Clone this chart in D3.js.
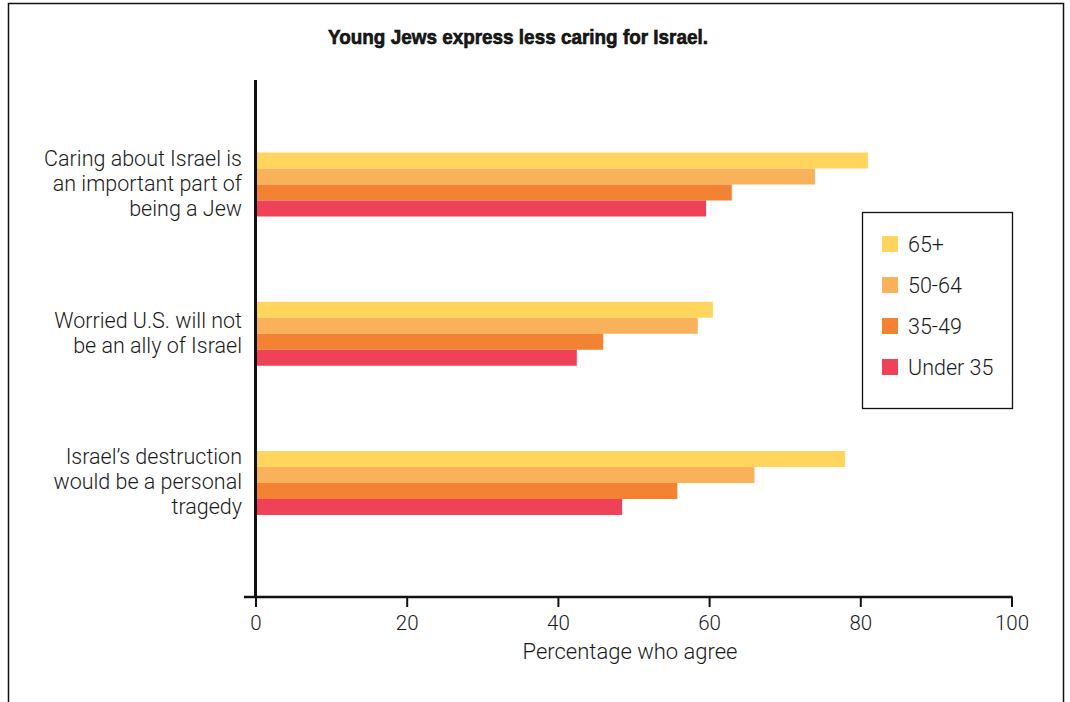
<!DOCTYPE html>
<html>
<head>
<meta charset="utf-8">
<script src="https://cdn.jsdelivr.net/npm/d3@7"></script>
<style>
  body { margin: 0; background: #fff; }
  svg { display: block; }
  text { font-family: "Liberation Sans", Arial, sans-serif; fill: #1a1a1a; }
</style>
</head>
<body>
<svg id="chart" width="1070" height="702"></svg>
<script>
const categories = [
  ["Caring about Israel is", "an important part of", "being a Jew"],
  ["Worried U.S. will not", "be an ally of Israel"],
  ["Israel\u2019s destruction", "would be a personal", "tragedy"]
];
const seriesNames = ["65+", "50-64", "35-49", "Under 35"];
const values65plus = [81, 60.5, 78];
const values50to64 = [74, 58.5, 66];
const values35to49 = [63, 46, 55.8];
const valuesUnder35 = [59.6, 42.5, 48.5];
const seriesColors = ["#FFD55E", "#F9B15A", "#F38233", "#EF4157"];
const xTicks = [0, 20, 40, 60, 80, 100];
const titleText = "Young Jews express less caring for Israel.";
const xTitle = "Percentage who agree";

const seriesValues = [values65plus, values50to64, values35to49, valuesUnder35];
const svg = d3.select("#chart");
const lightFont = "Roboto, 'Liberation Sans', sans-serif";

// outer frame
svg.append("rect").attr("x", 8.5).attr("y", 3.5).attr("width", 1055).attr("height", 720)
  .attr("fill", "none").attr("stroke", "#111").attr("stroke-width", 1.5);

const x = d3.scaleLinear().domain([0, 100]).range([255.5, 1011.5]);
const catIdx = d3.range(categories.length);
const yCenter = d3.scalePoint().domain(catIdx).range([184.5, 483]);
const ySub = d3.scaleBand().domain(d3.range(seriesNames.length)).range([-32, 32]);

// bars
const groups = svg.append("g").selectAll("g").data(catIdx).join("g")
  .attr("transform", d => `translate(0,${yCenter(d)})`);
groups.selectAll("rect").data(ci => seriesValues.map((vals, si) => ({ si, v: vals[ci] })))
  .join("rect")
  .attr("x", x(0))
  .attr("y", d => ySub(d.si))
  .attr("width", d => x(d.v) - x(0))
  .attr("height", ySub.bandwidth())
  .attr("fill", d => seriesColors[d.si]);

// x axis
const xAxis = d3.axisBottom(x).tickValues(xTicks).tickSize(10).tickSizeOuter(0).tickFormat(d3.format("d"));
const gx = svg.append("g").attr("transform", "translate(0,597)").call(xAxis);
gx.select(".domain").remove();
gx.append("line").attr("x1", 244).attr("x2", x(100) + 1).attr("y1", 0).attr("y2", 0)
  .attr("stroke", "#111").attr("stroke-width", 2.5);
gx.selectAll(".tick line").attr("stroke", "#111").attr("stroke-width", 2);
gx.selectAll(".tick text").attr("y", 18).attr("dy", "0.71em")
  .style("font-family", lightFont).style("font-weight", 300)
  .style("font-size", "20.5px").attr("fill", "#1a1a1a");

// y axis line
svg.append("line").attr("x1", x(0)).attr("x2", x(0)).attr("y1", 80).attr("y2", 598)
  .attr("stroke", "#111").attr("stroke-width", 3);

// category labels
const lineH = 25;
svg.append("g").selectAll("text").data(catIdx).join("text")
  .attr("text-anchor", "end")
  .style("font-family", lightFont).style("font-weight", 300)
  .style("font-size", "21.5px")
  .each(function(ci) {
    const lines = categories[ci];
    const t = d3.select(this);
    const y0 = yCenter(ci) - (lines.length - 1) * lineH / 2;
    lines.forEach((ln, i) => {
      t.append("tspan").attr("x", 242).attr("y", y0 + i * lineH).attr("dy", "0.3em").text(ln);
    });
  });

// title
svg.append("text").attr("x", 518).attr("y", 44).attr("text-anchor", "middle")
  .style("font-family", "'Liberation Sans', Arial, sans-serif")
  .style("font-weight", "bold").style("font-size", "21px")
  .attr("stroke", "#000").attr("stroke-width", 0.6).attr("fill", "#000")
  .attr("textLength", 380).attr("lengthAdjust", "spacingAndGlyphs")
  .text(titleText);

// x title
svg.append("text").attr("x", 630).attr("y", 659).attr("text-anchor", "middle")
  .style("font-family", lightFont).style("font-weight", 300)
  .style("font-size", "22px").text(xTitle);

// legend
const lg = svg.append("g");
lg.append("rect").attr("x", 862.5).attr("y", 212.5).attr("width", 150).attr("height", 196)
  .attr("fill", "#fff").attr("stroke", "#111").attr("stroke-width", 1.3);
const ly = d3.scalePoint().domain(d3.range(seriesNames.length)).range([244, 367]);
const items = lg.selectAll("g.item").data(d3.range(seriesNames.length)).join("g").attr("class", "item")
  .attr("transform", i => `translate(882,${ly(i)})`);
items.append("rect").attr("x", 0).attr("y", -8).attr("width", 16).attr("height", 16)
  .attr("fill", i => seriesColors[i]);
items.append("text").attr("x", 26).attr("y", 0).attr("dy", "0.35em")
  .style("font-family", lightFont).style("font-weight", 300)
  .style("font-size", "21.5px").text(i => seriesNames[i]);
</script>
</body>
</html>
